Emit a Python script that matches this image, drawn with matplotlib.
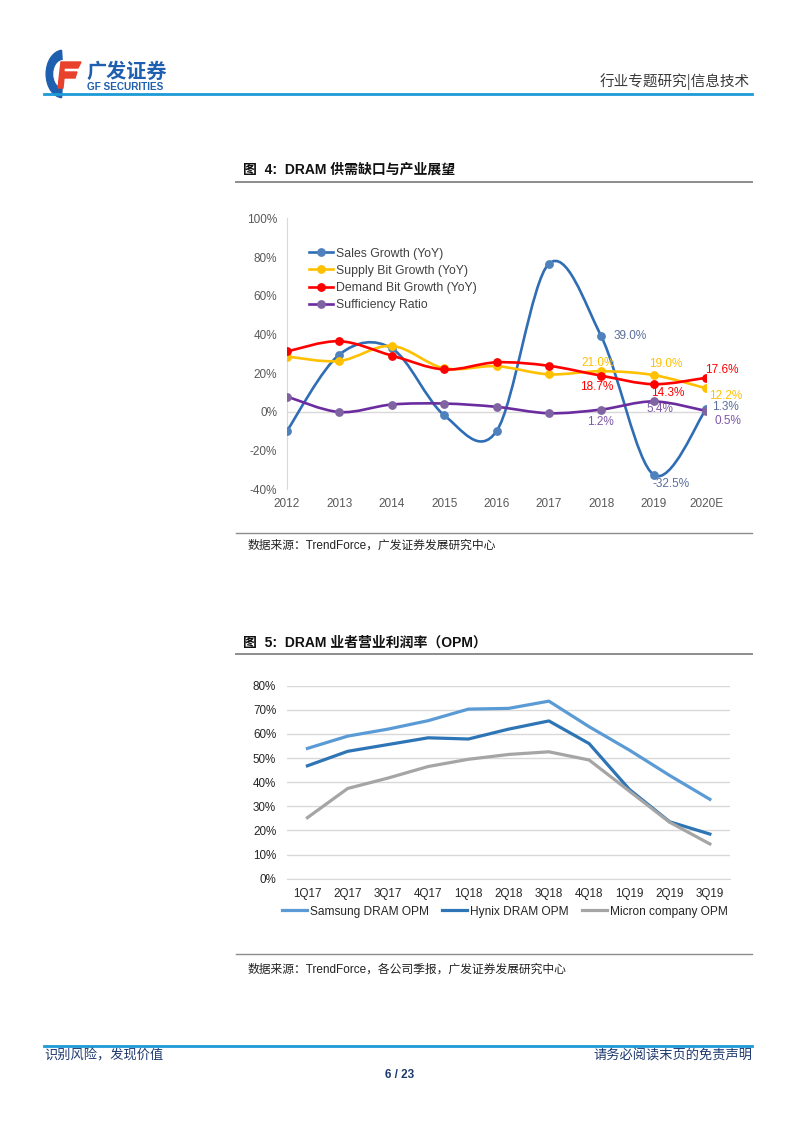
import numpy as np
import matplotlib
matplotlib.use("Agg")
import matplotlib.pyplot as plt
from matplotlib.path import Path
from matplotlib.patches import PathPatch, Polygon, Wedge
from matplotlib.lines import Line2D

# ---------------- data ----------------
years = ["2012", "2013", "2014", "2015", "2016", "2017", "2018", "2019", "2020E"]
sales_growth = [-9.8, 29.6, 32.8, -1.7, -10.0, 76.5, 39.0, -32.5, 1.3]
supply_growth = [28.6, 26.3, 34.1, 22.5, 23.6, 19.4, 21.0, 19.0, 12.2]
demand_growth = [31.2, 36.5, 29.1, 21.9, 25.6, 23.8, 18.7, 14.3, 17.6]
sufficiency = [7.9, -0.1, 3.8, 4.3, 2.6, -0.7, 1.2, 5.4, 0.5]
y1_ticks = [-40, -20, 0, 20, 40, 60, 80, 100]

quarters = ["1Q17", "2Q17", "3Q17", "4Q17", "1Q18", "2Q18", "3Q18", "4Q18", "1Q19", "2Q19", "3Q19"]
samsung_opm = [54.0, 59.1, 62.0, 65.5, 70.3, 70.6, 73.6, 63.0, 53.3, 42.8, 32.9]
hynix_opm = [46.8, 52.8, 55.6, 58.4, 57.9, 62.0, 65.4, 56.0, 37.0, 23.6, 18.5]
micron_opm = [25.3, 37.4, 41.7, 46.5, 49.5, 51.5, 52.6, 49.2, 36.3, 23.4, 14.4]
y2_ticks = [0, 10, 20, 30, 40, 50, 60, 70, 80]

# ---------------- figure ----------------
W, H = 802, 1133
fig = plt.figure(figsize=(W / 100, H / 100), dpi=100)
CJK = ["Noto Sans CJK SC", "DejaVu Sans"]
LAT = ["Liberation Sans", "Noto Sans CJK SC"]


def fx(x):
    return x / W


def fy(y):
    return 1 - y / H


def hline(x0, x1, y, color, lw):
    fig.add_artist(Line2D([fx(x0), fx(x1)], [fy(y), fy(y)], color=color, lw=lw,
                          transform=fig.transFigure))


# header
hline(44, 752, 94, "#1B9AD6", 2.0)
fig.text(fx(750), fy(82), "行业专题研究|信息技术", family=CJK, fontsize=10.5,
         color="#3a3a3a", ha="right", va="center")
# logo icon
fig.add_artist(Wedge((fx(63), fy(74)), 0.021, 95, 265, width=0.008, color="#1F5FAF",
                     transform=fig.transFigure))
fig.add_artist(Polygon([[fx(61), fy(62)], [fx(81), fy(62)], [fx(78), fy(68)], [fx(64), fy(68)],
                        [fx(64), fy(72)], [fx(77), fy(72)], [fx(75), fy(78)], [fx(64), fy(78)],
                        [fx(63), fy(88)], [fx(58), fy(88)]],
                       closed=True, color="#E8412C", transform=fig.transFigure))
fig.text(fx(86), fy(71), "广发证券", family=CJK, fontsize=14.5, fontweight="bold",
         color="#1F5FAF", ha="left", va="center")
fig.text(fx(87), fy(86.5), "GF SECURITIES", family=LAT, fontsize=7.2, fontweight="bold",
         color="#1F5FAF", ha="left", va="center")

# footer
hline(44, 752, 1046, "#1B9AD6", 2.0)
fig.text(fx(44), fy(1056), "识别风险，发现价值", family=CJK, fontsize=9.5,
         color="#1F3A6E", ha="left", va="center")
fig.text(fx(752), fy(1056), "请务必阅读末页的免责声明", family=CJK, fontsize=9.5,
         color="#1F3A6E", ha="right", va="center")
fig.text(fx(400), fy(1075), "6 / 23", family=LAT, fontsize=8.5, fontweight="bold",
         color="#1F3A6E", ha="center", va="center")

# chart titles / sources
fig.text(fx(243), fy(170), "图  4:  DRAM 供需缺口与产业展望", family=LAT, fontsize=10,
         fontweight="bold", color="#111111", ha="left", va="center")
hline(236, 752, 181.5, "#8c8c8c", 1.4)
hline(236, 752, 533, "#8c8c8c", 1.0)
fig.text(fx(248), fy(546), "数据来源：TrendForce，广发证券发展研究中心", family=LAT, fontsize=8.5,
         color="#222222", ha="left", va="center")

fig.text(fx(243), fy(643), "图  5:  DRAM 业者营业利润率（OPM）", family=LAT, fontsize=10,
         fontweight="bold", color="#111111", ha="left", va="center")
hline(236, 752, 653.5, "#8c8c8c", 1.4)
hline(236, 752, 954, "#8c8c8c", 1.0)
fig.text(fx(248), fy(970), "数据来源：TrendForce，各公司季报，广发证券发展研究中心", family=LAT,
         fontsize=8.5, color="#222222", ha="left", va="center")

# ---------------- chart 1 ----------------
ax1 = fig.add_axes([fx(287), fy(489.3), fx(706) - fx(287), fy(218.3) - fy(489.3)])
ax1.set_xlim(0, len(years) - 1)
ax1.set_ylim(-40, 100)
ax1.set_yticks(y1_ticks)
ax1.set_yticklabels([f"{v}%" for v in y1_ticks], family=LAT, fontsize=8.5, color="#595959")
ax1.set_xticks(range(len(years)))
ax1.set_xticklabels(years, family=LAT, fontsize=8.5, color="#595959")
ax1.tick_params(axis="y", length=0, pad=7)
ax1.tick_params(axis="x", length=0, pad=6)
for s in ["top", "right", "bottom"]:
    ax1.spines[s].set_visible(False)
ax1.spines["left"].set_color("#D9D9D9")
ax1.axhline(0, color="#D9D9D9", lw=1, zorder=1)


def smooth_path(xs, ys):
    pts = np.column_stack([xs, ys]).astype(float)
    n = len(pts)
    verts = [pts[0]]
    codes = [Path.MOVETO]
    for i in range(n - 1):
        p0 = pts[i - 1] if i > 0 else pts[i]
        p1 = pts[i]
        p2 = pts[i + 1]
        p3 = pts[i + 2] if i + 2 < n else pts[i + 1]
        c1 = p1 + (p2 - p0) / 6.0
        c2 = p2 - (p3 - p1) / 6.0
        verts += [c1, c2, p2]
        codes += [Path.CURVE4] * 3
    return Path(verts, codes)


series1 = [
    ("Sales Growth (YoY)", sales_growth, "#2F6DB5", "#4F81BD"),
    ("Supply Bit Growth (YoY)", supply_growth, "#FFC000", "#FFC000"),
    ("Demand Bit Growth (YoY)", demand_growth, "#FF0000", "#FF0000"),
    ("Sufficiency Ratio", sufficiency, "#6A2C9F", "#8064A2"),
]
xs = np.arange(len(years))
handles = []
for z, (name, vals, lc, mc) in enumerate(series1):
    ax1.add_patch(PathPatch(smooth_path(xs, vals), fill=False, edgecolor=lc, lw=1.9,
                            zorder=3 + z, capstyle="round"))
    ax1.plot(xs, vals, ls="none", marker="o", ms=5.3, mfc=mc, mec=mc, zorder=3 + z)
    handles.append(Line2D([], [], color=lc, lw=1.9, marker="o", ms=5.3, mfc=mc, mec=mc,
                          label=name))

leg = ax1.legend(handles=handles, loc="upper left", bbox_to_anchor=(0.04, 0.91),
                 frameon=False, prop={"family": LAT, "size": 8.8}, handlelength=2.0,
                 handletextpad=0.2, labelspacing=0.42, borderaxespad=0)
for t in leg.get_texts():
    t.set_color("#404040")

# data labels: (series, index, dx points, dy points, colour)
lab_kw = dict(family=LAT, fontsize=8.5, ha="left", va="center", clip_on=False,
              textcoords="offset points")
ann = [
    (sales_growth, 6, 8.6, 0, "#5B6E9C"),
    (supply_growth, 6, -14.4, 6, "#FFC000"),
    (demand_growth, 6, -15, -8, "#FF0000"),
    (sufficiency, 6, -10, -9, "#7E57A8"),
    (supply_growth, 7, -3, 8, "#FFC000"),
    (demand_growth, 7, -1.5, -6, "#FF0000"),
    (sufficiency, 7, -5, -5.5, "#7E57A8"),
    (sales_growth, 7, -1, -6.5, "#5B6E9C"),
    (demand_growth, 8, -1, 5.5, "#FF0000"),
    (supply_growth, 8, 2, -5.5, "#FFC000"),
    (sales_growth, 8, 4.5, 1.5, "#5B6E9C"),
    (sufficiency, 8, 6, -7.5, "#7E57A8"),
]
for vals, i, dx, dy, col in ann:
    ax1.annotate(f"{vals[i]:.1f}%", (i, vals[i]), xytext=(dx, dy), color=col, **lab_kw)

# ---------------- chart 2 ----------------
ax2 = fig.add_axes([fx(287.3), fy(878.7), fx(730) - fx(287.3), fy(685.7) - fy(878.7)])
ax2.set_xlim(-0.5, len(quarters) - 0.5)
ax2.set_ylim(0, 80)
ax2.set_yticks(y2_ticks)
ax2.set_yticklabels([f"{v}%" for v in y2_ticks], family=LAT, fontsize=8.4, color="#262626")
ax2.set_xticks(range(len(quarters)))
ax2.set_xticklabels(quarters, family=LAT, fontsize=8.4, color="#262626")
ax2.tick_params(axis="both", length=0)
ax2.tick_params(axis="y", pad=8)
ax2.tick_params(axis="x", pad=7)
for s in ["top", "right", "left"]:
    ax2.spines[s].set_visible(False)
ax2.spines["bottom"].set_color("#D9D9D9")
ax2.grid(axis="y", color="#D9D9D9", lw=1)
ax2.set_axisbelow(True)
xq = np.arange(len(quarters))
series2 = [
    ("Samsung DRAM OPM", samsung_opm, "#5B9BD5"),
    ("Hynix DRAM OPM", hynix_opm, "#2E75B6"),
    ("Micron company OPM", micron_opm, "#A5A5A5"),
]
for name, vals, col in series2:
    ax2.plot(xq, vals, color=col, lw=2.3, label=name, solid_joinstyle="round")
leg2 = ax2.legend(loc="upper center", bbox_to_anchor=(0.492, -0.115), ncol=3, frameon=False,
                  prop={"family": LAT, "size": 8.6}, handlelength=2.1, handletextpad=0.25,
                  columnspacing=1.1, borderaxespad=0)
for t in leg2.get_texts():
    t.set_color("#262626")

fig.savefig("out.png", dpi=100)
